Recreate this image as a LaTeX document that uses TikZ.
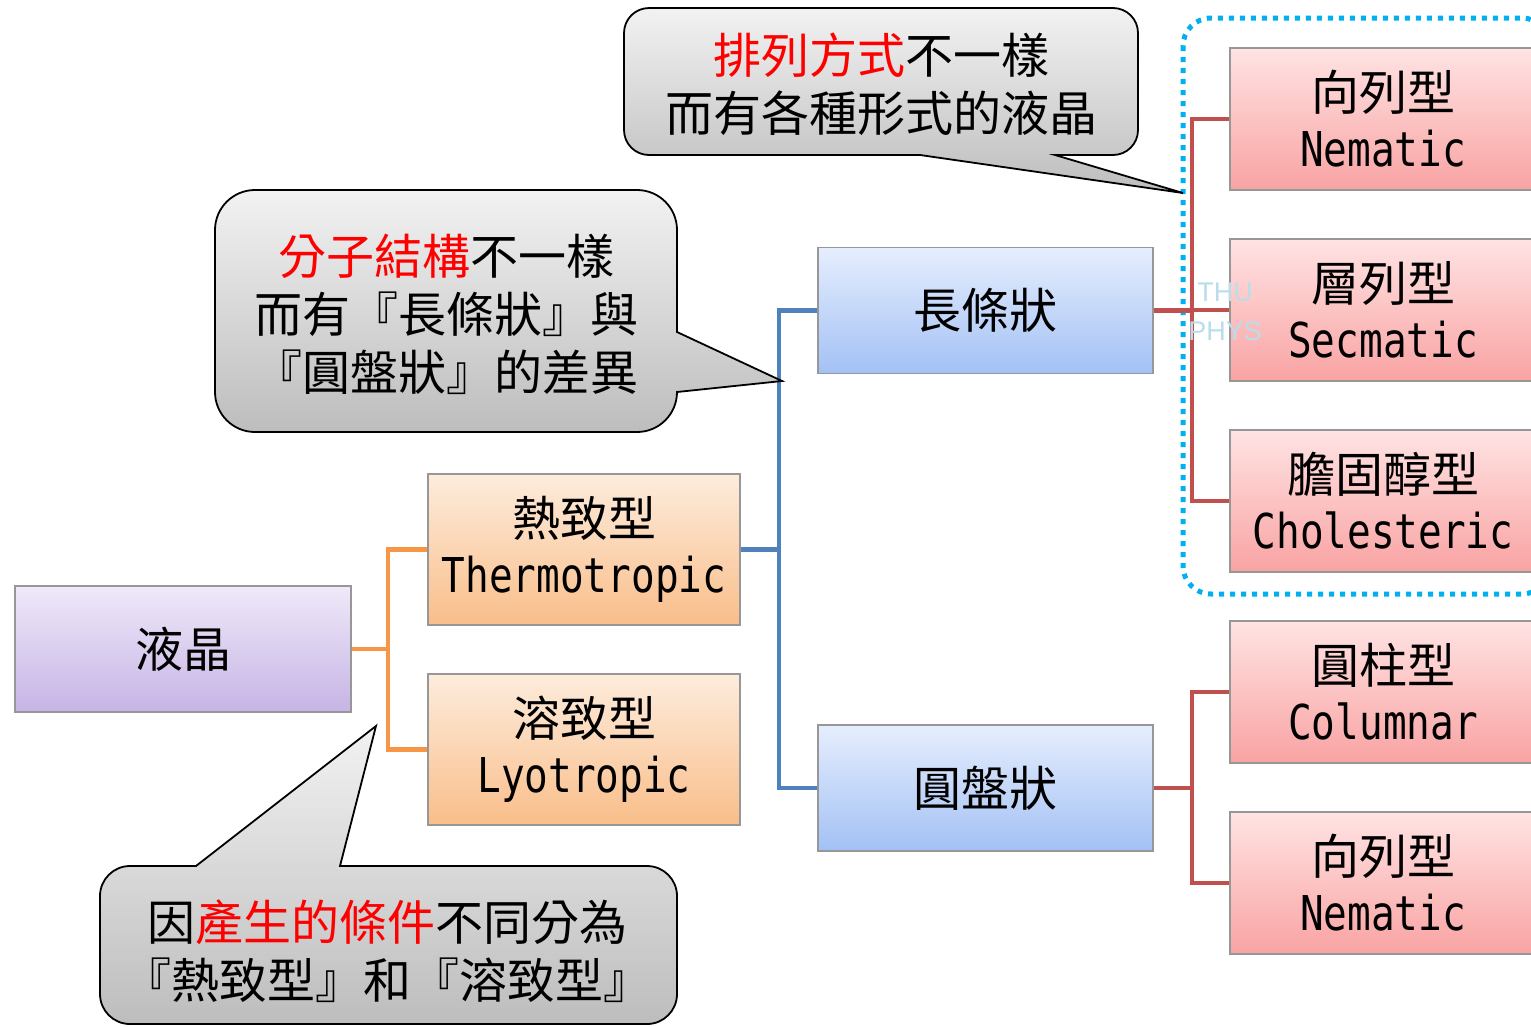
\documentclass[tikz,border=0pt]{standalone}
\usepackage{fontspec}
\setmainfont{Noto Sans CJK TC}
\newfontfamily\monolat[FakeStretch=0.82]{DejaVu Sans Mono}
\newfontfamily\wmfont{Liberation Sans}
\definecolor{pu1}{HTML}{EFE9F9}
\definecolor{pu2}{HTML}{C6B4E5}
\definecolor{or1}{HTML}{FDECDC}
\definecolor{or2}{HTML}{F9BE8A}
\definecolor{bl1}{HTML}{E6EEFD}
\definecolor{bl2}{HTML}{A3C1F5}
\definecolor{pk1}{HTML}{FFE3E3}
\definecolor{pk2}{HTML}{F9A3A3}
\definecolor{cg1}{HTML}{F2F2F2}
\definecolor{cg2}{HTML}{BDBDBD}
\definecolor{bordergray}{HTML}{979797}
\definecolor{olinec}{HTML}{F79646}
\definecolor{blinec}{HTML}{4F81BD}
\definecolor{rlinec}{HTML}{C0504D}
\definecolor{dotc}{HTML}{00B0F0}
\definecolor{wmc}{HTML}{B9DDE9}
\definecolor{redtxt}{HTML}{FF0000}
\tikzset{
  boxbase/.style={rectangle, draw=bordergray, line width=1.6pt, inner sep=0pt,
    align=center, font=\fontsize{48}{56}\selectfont},
  purplebox/.style={boxbase, top color=pu1, bottom color=pu2, minimum width=336pt, minimum height=126pt},
  orangebox/.style={boxbase, top color=or1, bottom color=or2, minimum width=312pt, minimum height=151pt},
  bluebox/.style={boxbase, top color=bl1, bottom color=bl2, minimum width=335pt, minimum height=126pt},
  pinkbox/.style={boxbase, top color=pk1, bottom color=pk2, minimum width=306pt, minimum height=142pt},
  oline/.style={draw=olinec, line width=4.5pt},
  bline/.style={draw=blinec, line width=4.5pt},
  rline/.style={draw=rlinec, line width=4.5pt},
  dotline/.style={draw=dotc, line width=5pt, dash pattern=on 5pt off 6pt},
  callout/.style={top color=cg1, bottom color=cg2, draw=black, line width=1.8pt, line join=miter},
  callouttext/.style={align=center, inner sep=0pt, font=\fontsize{48}{58}\selectfont},
  wmtext/.style={text=wmc, inner sep=0pt, font=\wmfont\fontsize{27}{27}\selectfont}
}
\begin{document}
\begin{tikzpicture}[x=1pt,y=1pt]
\useasboundingbox (0,0) rectangle (1531,-1026);
\fill[white] (0,0) rectangle (1531,-1026);

% dotted group frame
\draw[dotline, rounded corners=28pt] (1183,-18) rectangle (1550,-594);

% junction coordinates
\coordinate (jo) at (388,0);
\coordinate (jb) at (779,0);
\coordinate (jr) at (1192,0);

% boxes
\node[purplebox] (liq) at (183,-649) {液晶};
\node[orangebox] (thermo) at (584,-549.5) {熱致型\\{\monolat Thermotropic}};
\node[orangebox] (lyo) at (584,-749.5) {溶致型\\{\monolat Lyotropic}};
\node[bluebox] (rod) at (985.5,-310.5) {長條狀};
\node[bluebox] (disc) at (985.5,-788) {圓盤狀};
\node[pinkbox] (nem1) at (1383,-119) {向列型\\{\monolat Nematic}};
\node[pinkbox] (sme) at (1383,-310) {層列型\\{\monolat Secmatic}};
\node[pinkbox] (cho) at (1383,-501) {膽固醇型\\{\monolat Cholesteric}};
\node[pinkbox] (col) at (1383,-692) {圓柱型\\{\monolat Columnar}};
\node[pinkbox] (nem2) at (1383,-883) {向列型\\{\monolat Nematic}};

% connectors
\draw[oline] (liq.east) -- (liq.east -| jo);
\draw[oline] (thermo.west) -- (thermo.west -| jo) -- (lyo.west -| jo) -- (lyo.west);
\draw[bline] (thermo.east) -- (thermo.east -| jb);
\draw[bline] (rod.west) -- (rod.west -| jb) -- (disc.west -| jb) -- (disc.west);
\draw[rline] (rod.east) -- (rod.east -| jr);
\draw[rline] (nem1.west) -- (nem1.west -| jr) -- (cho.west -| jr) -- (cho.west);
\draw[rline] (sme.west) -- (sme.west -| jr);
\draw[rline] (disc.east) -- (disc.east -| jr);
\draw[rline] (col.west) -- (col.west -| jr) -- (nem2.west -| jr) -- (nem2.west);

% watermark
\node[wmtext] (wm1) at (1225,-292) {THU};
\node[wmtext] (wm2) at (1225,-331) {PHYS};

% callout A
\path[callout] (649,-8) -- (1113,-8) arc (90:0:25) -- (1138,-130) arc (0:-90:25)
  -- (1055,-155) -- (1183,-193) -- (920,-155) -- (649,-155) arc (270:180:25)
  -- (624,-33) arc (180:90:25) -- cycle;
\node[callouttext] (ta) at (881,-84) {\textcolor{redtxt}{排列方式}不一樣\\而有各種形式的液晶};

% callout B
\path[callout] (255,-190) -- (637,-190) arc (90:0:40) -- (677,-332) -- (782,-381)
  -- (677,-392) -- (677,-392) arc (0:-90:40) -- (255,-432) arc (270:180:40)
  -- (215,-230) arc (180:90:40) -- cycle;
\node[callouttext] (tb) at (446,-314.5) {\textcolor{redtxt}{分子結構}不一樣\\而有『長條狀』與\\『圓盤狀』的差異};

% callout C
\path[callout] (130,-866) -- (196,-866) -- (376,-726) -- (340,-866) -- (647,-866)
  arc (90:0:30) -- (677,-994) arc (0:-90:30) -- (130,-1024) arc (270:180:30)
  -- (100,-896) arc (180:90:30) -- cycle;
\node[callouttext] (tc) at (387,-951) {因\textcolor{redtxt}{產生的條件}不同分為\\『熱致型』和『溶致型』};
\end{tikzpicture}
\end{document}
